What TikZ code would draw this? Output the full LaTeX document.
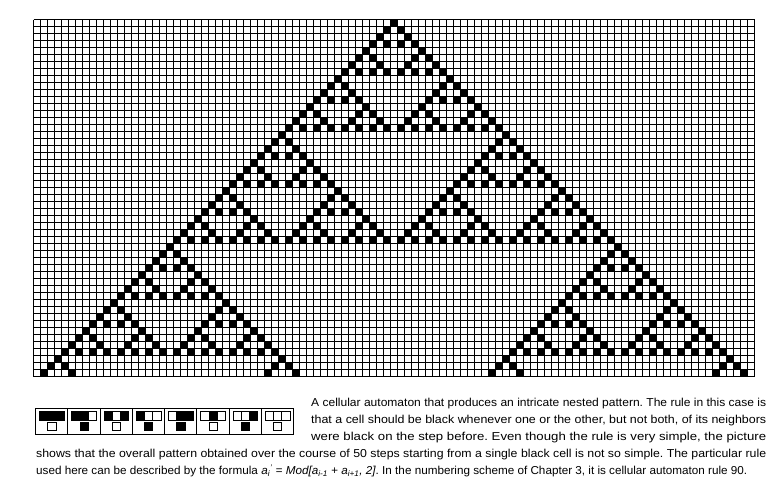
\documentclass[tikz,border=0pt]{standalone}
\usepackage{fontspec}
\setmainfont{Liberation Sans}
\usepackage{graphicx}
\colorlet{cellc0}{white}
\colorlet{cellc1}{black}
\begin{document}
\frenchspacing
\begin{tikzpicture}[x=1pt,y=-1pt,
  gridline/.style={line width=1.3pt, black, line cap=square},
  iconline/.style={line width=1pt, black},
  captext/.style={anchor=base west, inner sep=0pt, font=\fontsize{11.5}{13}\selectfont}]
\useasboundingbox (0,0) rectangle (782,490);
\def\s{7}
\def\gx{33.5}
\def\gy{19.5}
% black cells of rule 90
\foreach \n in {0,...,50}{
  \foreach \k in {0,...,\n}{
    \pgfmathtruncatemacro{\m}{\n-\k}
    \pgfmathtruncatemacro{\bad}{mod(floor(\k),2)*mod(floor(\m),2)+mod(floor(\k/2),2)*mod(floor(\m/2),2)+mod(floor(\k/4),2)*mod(floor(\m/4),2)+mod(floor(\k/8),2)*mod(floor(\m/8),2)+mod(floor(\k/16),2)*mod(floor(\m/16),2)+mod(floor(\k/32),2)*mod(floor(\m/32),2)}
    \ifnum\bad=0
      \pgfmathsetmacro{\xa}{\gx+(51-\n+2*\k)*\s}
      \pgfmathsetmacro{\ya}{\gy+\n*\s}
      \fill (\xa,\ya) rectangle ++(\s,\s);
    \fi
  }
}
% grid
\foreach \i in {0,...,103} \draw[gridline] ({\gx+\i*\s},\gy) -- ({\gx+\i*\s},{\gy+51*\s});
\foreach \j in {0,...,51} \draw[gridline] (\gx,{\gy+\j*\s}) -- ({\gx+103*\s},{\gy+\j*\s});
% rule icon
\def\iw{32.25}
\draw[iconline] (35.5,408.5) rectangle (293.5,434.5);
\foreach \i in {1,...,7} \draw[iconline] ({35.5+\i*\iw},408.5) -- ({35.5+\i*\iw},434.5);
\foreach \i/\a/\b/\c/\r in {0/1/1/1/0, 1/1/1/0/1, 2/1/0/1/0, 3/1/0/0/1, 4/0/1/1/1, 5/0/1/0/0, 6/0/0/1/1, 7/0/0/0/0}{
  \draw[iconline, fill=cellc\a] ({35.5+\i*\iw+4},411.5) rectangle ++(8.3,8.5);
  \draw[iconline, fill=cellc\b] ({35.5+\i*\iw+12.3},411.5) rectangle ++(8.3,8.5);
  \draw[iconline, fill=cellc\c] ({35.5+\i*\iw+20.6},411.5) rectangle ++(8.3,8.5);
  \draw[iconline, fill=cellc\r] ({35.5+\i*\iw+12.3},422.5) rectangle ++(8.3,8.3);
}
% caption
\node[captext] (t1) at (311,406.5) {\resizebox{455pt}{\height}{A cellular automaton that produces an intricate nested pattern. The rule in this case is}};
\node[captext] (t2) at (311,423.5) {\resizebox{455pt}{\height}{that a cell should be black whenever one or the other, but not both, of its neighbors}};
\node[captext] (t3) at (311,440.5) {\resizebox{455pt}{\height}{were black on the step before. Even though the rule is very simple, the picture}};
\node[captext] (t4) at (36,457.5) {\resizebox{730pt}{\height}{shows that the overall pattern obtained over the course of 50 steps starting from a single black cell is not so simple. The particular rule}};
\node[captext] (t5) at (36,474.5) {\resizebox{711pt}{\height}{used here can be described by the formula \textit{a\textsubscript{i}\textsuperscript{'} = Mod[a\textsubscript{i-1} + a\textsubscript{i+1}, 2]}. In the numbering scheme of Chapter 3, it is cellular automaton rule 90.}};
\end{tikzpicture}
\end{document}
